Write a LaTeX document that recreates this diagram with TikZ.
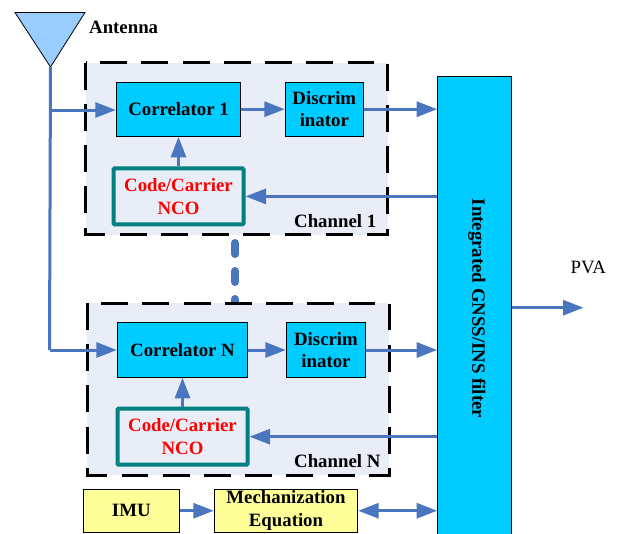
\documentclass[tikz,border=0pt]{standalone}
\usepackage{fontspec}
\setmainfont{Liberation Serif}
\usetikzlibrary{arrows.meta}

\definecolor{skyblock}{HTML}{00CCFF}
\definecolor{antennablue}{HTML}{99CCFF}
\definecolor{channelbg}{HTML}{E9EDF7}
\definecolor{wireblue}{HTML}{4A76BF}
\definecolor{ncoteal}{HTML}{008080}
\definecolor{imuyellow}{HTML}{FFFF99}

\begin{document}
\begin{tikzpicture}[
            x = 1pt, y = -1pt, % one unit is one pixel of the layout
            > = {Triangle[length=20.5pt,width=15pt]}, % arrow head style
            font = \fontsize{18.8}{22.7}\selectfont\bfseries,
            inner sep = 0pt
        ]

        \tikzstyle{channel}=[
            fill = channelbg,
            outer sep = 0pt
        ]
        \tikzstyle{channel edge}=[
            draw = black,
            line width = 3pt,
            dash pattern = on 26.9pt off 14.34pt
        ]
        \tikzstyle{block}=[
            draw = black,
            fill = skyblock,
            line width = 1pt,
            align = center
        ]
        \tikzstyle{nco}=[
            draw = ncoteal,
            line width = 4pt,
            rounded corners = 1pt,
            text = red,
            align = center,
            minimum width = 130pt,
            minimum height = 56pt
        ]
        \tikzstyle{sensor}=[
            block,
            fill = imuyellow,
            minimum height = 43.5pt
        ]
        \tikzstyle{wire}=[
            wireblue,
            line width = 3pt
        ]

        \path[use as bounding box, clip] (0,0) rectangle (617,533);

	% antenna
	\coordinate (tip) at (50.5,67);
	\coordinate (branch) at (49.9,110);
	\coordinate (corner) at (49.5,350);
	\draw[fill = antennablue, line width = 0.8pt] (15,12.5) -- (85,12.5) -- (tip) -- cycle;
	\node (antenna) [anchor = west] at (89,27) {Antenna};

	% dots between the channels
	\coordinate (dots1) at (235,243);
	\coordinate (dots2) at (235,310);
	\draw[wire, line width = 8pt, line cap = round, dash pattern = on 11pt off 17pt] (dots1) -- (dots2);

	% channel 1
	\node[channel, minimum width = 302pt, minimum height = 172.3pt] (chan1) at (236.7,148.8) {};
	\draw[channel edge] (chan1.north west) -- (chan1.south west) -- (chan1.south east) -- (chan1.north east) -- cycle;
	\node[block, minimum width = 124.4pt, minimum height = 54.3pt] (corr1) at (178.5,109.2) {Correlator 1};
	\node[block, minimum width = 78pt, minimum height = 54.3pt] (disc1) [right of=corr1, node distance=145.8pt] {Discrim\\inator};
	\node[nco] (nco1) [below of=corr1, node distance=87.2pt] {Code/Carrier\\NCO};
	\node (label1) [anchor = west] at (294,220.7) {Channel 1};

	% channel N
	\node[channel, minimum width = 302pt, minimum height = 172pt] (chanN) at (238.3,389) {};
	\draw[channel edge] (chanN.north west) -- (chanN.south west) -- (chanN.south east) -- (chanN.north east) -- cycle;
	\node[block, minimum width = 130.4pt, minimum height = 54.6pt] (corrN) at (182.5,350) {Correlator N};
	\node[block, minimum width = 79.4pt, minimum height = 54.6pt] (discN) [right of=corrN, node distance=143.5pt] {Discrim\\inator};
	\node[nco] (ncoN) [below of=corrN, node distance=86.7pt] {Code/Carrier\\NCO};
	\node (labelN) [anchor = west] at (294,460.7) {Channel N};

	% bottom row and filter
	\node[sensor, minimum width = 96pt] (imu) at (131.3,510.75) {IMU};
	\node[sensor, minimum width = 143.4pt] (mech) at (286,510.75) {Mechanization\\Equation};
	\node[block, minimum width = 74.3pt, minimum height = 464pt] (filter) at (474.8,308) {};
	\node[rotate = -90] (filtertext) at (476.8,308.5) {Integrated GNSS/INS filter};
	\node[font = \fontsize{18.8}{22.7}\selectfont] (pva) at (588.3,267) {PVA};
	\coordinate (out) at (583.5,307.7);

	% connectors
	\draw[wire] (tip) -- (corner);
	\draw[wire, ->] (corner) -- (corrN.west);
	\draw[wire, ->] (branch) -- (corr1.west |- branch);
	\path[wire, ->] (corr1) edge (disc1);
	\draw[wire, ->] (disc1.east) -- (disc1.east -| filter.west);
	\draw[wire, ->] (nco1.north) -- (nco1.north |- corr1.south);
	\draw[wire, ->] (nco1.east -| filter.west) -- (nco1.east);
	\path[wire, ->] (corrN) edge (discN);
	\draw[wire, ->] (discN.east) -- (discN.east -| filter.west);
	\draw[wire, ->] (ncoN.north) -- (ncoN.north |- corrN.south);
	\draw[wire, ->] (ncoN.east -| filter.west) -- (ncoN.east);
	\path[wire, ->] (imu) edge (mech);
	\draw[wire, <->] (mech.east) -- (mech.east -| filter.west);
	\draw[wire, ->] (filter.east |- out) -- (out);

    \end{tikzpicture}
\end{document}
